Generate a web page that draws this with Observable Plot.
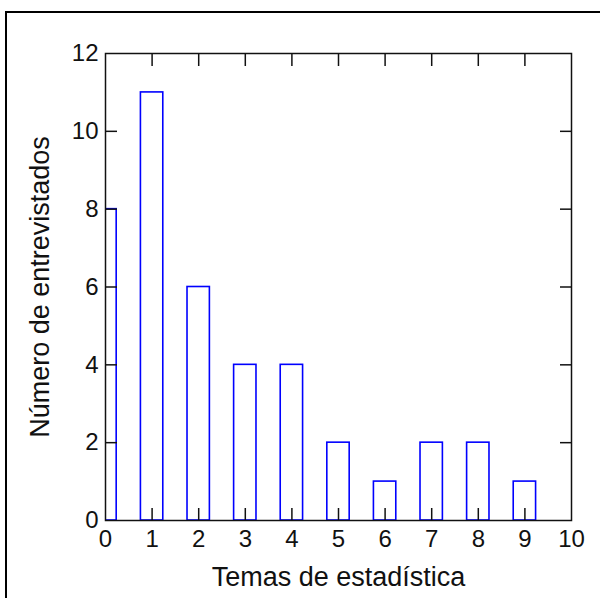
<!DOCTYPE html>
<html>
<head>
<meta charset="utf-8">
<script src="https://cdn.jsdelivr.net/npm/d3@7"></script>
<script src="https://cdn.jsdelivr.net/npm/@observablehq/plot@0.6"></script>
<style>
  html, body { margin: 0; padding: 0; background: #fff; }
  #wrap { position: relative; width: 600px; height: 598px; overflow: hidden; }
  #border { position: absolute; left: 5px; top: 11px; width: 700px; height: 700px; border: 2px solid #000; pointer-events: none; }
</style>
</head>
<body>
<div id="wrap"><div id="chart"></div><div id="border"></div></div>
<script>
const temas = [0, 1, 2, 3, 4, 5, 6, 7, 8, 9];
const entrevistados = [8, 11, 6, 4, 4, 2, 1, 2, 2, 1];
const xTicks = [0, 1, 2, 3, 4, 5, 6, 7, 8, 9, 10];
const yTicks = [0, 2, 4, 6, 8, 10, 12];
const xLabel = "Temas de estadística";
const yLabel = "Número de entrevistados";

const data = temas.map((t, i) => ({tema: t, n: entrevistados[i]}));
const halfWidth = 0.24;
const font = "'Liberation Sans', Arial, sans-serif";

const chart = Plot.plot({
  width: 600,
  height: 598,
  marginLeft: 105,
  marginRight: 29,
  marginTop: 53,
  marginBottom: 78,
  style: {background: "#fff", fontFamily: font, color: "#111"},
  x: {domain: [0, 10]},
  y: {domain: [0, 12]},
  marks: [
    Plot.rectY(data, {x1: d => d.tema - halfWidth, x2: d => d.tema + halfWidth, y1: 0, y2: "n", fill: "#fff", stroke: "#0000ff", strokeWidth: 1.6, clip: true}),
    Plot.frame({stroke: "#111", strokeWidth: 1.5}),
    Plot.axisX({anchor: "bottom", ticks: xTicks, tickSize: 0, tickPadding: 9, fontSize: 24, label: null}),
    Plot.axisX({anchor: "bottom", ticks: xTicks.slice(1, -1), tickSize: -12, tickFormat: () => "", strokeWidth: 1.5, label: null}),
    Plot.axisX({anchor: "top", ticks: xTicks.slice(1, -1), tickSize: -12, tickFormat: () => "", strokeWidth: 1.5, label: null}),
    Plot.axisY({anchor: "left", ticks: yTicks, tickSize: 0, tickPadding: 7, fontSize: 24, label: null}),
    Plot.axisY({anchor: "left", ticks: yTicks.slice(1, -1), tickSize: -12, tickFormat: () => "", strokeWidth: 1.5, label: null}),
    Plot.axisY({anchor: "right", ticks: yTicks.slice(1, -1), tickSize: -12, tickFormat: () => "", strokeWidth: 1.5, label: null}),
    Plot.text([xLabel], {frameAnchor: "bottom", dy: 65, lineAnchor: "bottom", fontSize: 27, fill: "#111"}),
    Plot.text([yLabel], {frameAnchor: "left", dx: -65, rotate: -90, textAnchor: "middle", lineAnchor: "middle", fontSize: 27, fill: "#111"})
  ]
});
document.getElementById("chart").appendChild(chart);
</script>
</body>
</html>
